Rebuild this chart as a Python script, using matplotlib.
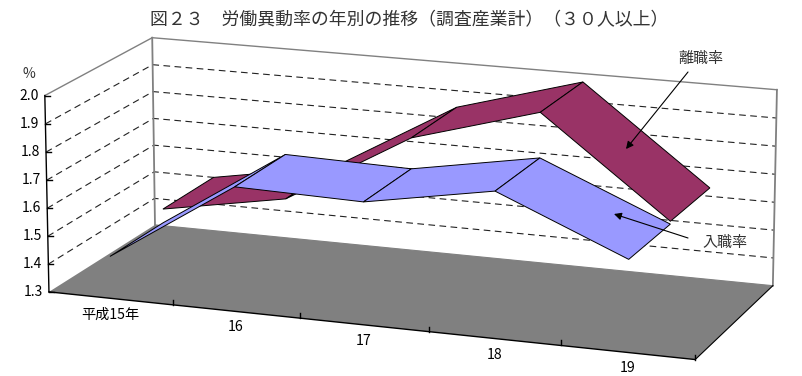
import numpy as np
import matplotlib
matplotlib.use('Agg')
import matplotlib.pyplot as plt
from matplotlib.patches import Polygon

plt.rcParams['font.family'] = ['Noto Sans CJK JP', 'DejaVu Sans']

# ==============================================================================
# Data
# ==============================================================================

TITLE = '図２３　労働異動率の年別の推移（調査産業計）（３０人以上）'
YEARS = ['平成15年', '16', '17', '18', '19']
RATE_TICKS = [1.3, 1.4, 1.5, 1.6, 1.7, 1.8, 1.9, 2.0]
HIRE_RATE = [1.45, 1.74, 1.73, 1.81, 1.62]
LEAVE_RATE = [1.50, 1.58, 1.84, 1.97, 1.63]

RATE_MIN = 1.3
RATE_MAX = 2.0
MAROON = '#993366'
BLUE = '#9999FF'
GREY = '#808080'

# ==============================================================================
# 3D box projection, (category, depth, rate) -> image pixel
# ==============================================================================

box_world = [(0, 0, 0), (0, 1, 0), (5, 1, 0), (5, 0, 0), (0, 0, .7), (0, 1, .7), (5, 1, .7)]
box_pixel = [(49, 292), (155, 225), (773, 285), (695, 360), (45, 95), (152, 38), (777, 90)]

rows, targets = [], []
for (u, v, h), (x, y) in zip(box_world, box_pixel):
    rows.append([u, v, h, 1, 0, 0, 0, 0, -x * u, -x * v, -x * h])
    targets.append(x)
    rows.append([0, 0, 0, 0, u, v, h, 1, -y * u, -y * v, -y * h])
    targets.append(y)
solution = np.linalg.lstsq(np.array(rows, float), np.array(targets, float), rcond=None)[0]
CAMERA = np.append(solution, 1).reshape(3, 4)


def project(category, depth, rate):
    q = CAMERA @ np.array([category, depth, rate - RATE_MIN, 1.0])
    return q[0] / q[2], q[1] / q[2]


def draw_ribbon(ax, rates, depth_front, depth_back, color, zorder):
    # One quad per segment, the fold lines come from the quad edges
    for i in range(len(rates) - 1):
        quad = [
            project(i + .5, depth_front, rates[i]),
            project(i + 1.5, depth_front, rates[i + 1]),
            project(i + 1.5, depth_back, rates[i + 1]),
            project(i + .5, depth_back, rates[i]),
        ]
        ax.add_patch(Polygon(quad, closed=True, facecolor=color, edgecolor='black',
                             linewidth=.7, joinstyle='miter', zorder=zorder))


def draw_line(ax, a, b, **kwargs):
    ax.plot([a[0], b[0]], [a[1], b[1]], **kwargs)


# ==============================================================================
# Figure
# ==============================================================================

fig = plt.figure(figsize=(8.03, 3.76), dpi=100)
ax = fig.add_axes([0, 0, 1, 1])
ax.set_xlim(0, 803)
ax.set_ylim(376, 0)
ax.axis('off')

# Floor
floor = [project(0, 0, RATE_MIN), project(5, 0, RATE_MIN), project(5, 1, RATE_MIN), project(0, 1, RATE_MIN)]
ax.add_patch(Polygon(floor, closed=True, facecolor=GREY, edgecolor='none', zorder=1))

# Dashed grid on the left and back walls
for rate in RATE_TICKS[1:-1]:
    corner = project(0, 1, rate)
    xs = [project(0, 0, rate)[0], corner[0], project(5, 1, rate)[0]]
    ys = [project(0, 0, rate)[1], corner[1], project(5, 1, rate)[1]]
    ax.plot(xs, ys, color='#222222', linewidth=.8, dashes=(6, 4), zorder=2)

# Wall outlines
top_left = project(0, 1, RATE_MAX)
draw_line(ax, project(0, 0, RATE_MAX), top_left, color=GREY, linewidth=1, zorder=2)
draw_line(ax, top_left, project(5, 1, RATE_MAX), color=GREY, linewidth=1, zorder=2)
draw_line(ax, top_left, project(0, 1, RATE_MIN), color=GREY, linewidth=1.3, zorder=2)
draw_line(ax, project(5, 1, RATE_MAX), project(5, 1, RATE_MIN), color=GREY, linewidth=1.3, zorder=2)
draw_line(ax, project(0, 1, RATE_MIN), project(5, 1, RATE_MIN), color=GREY, linewidth=.8, zorder=2)

# Series, the leave rate sits behind the hire rate
draw_ribbon(ax, LEAVE_RATE, .5, 1, MAROON, 3)
draw_ribbon(ax, HIRE_RATE, 0, .5, BLUE, 4)

# Axes lines and ticks
draw_line(ax, project(0, 0, RATE_MIN), project(0, 0, RATE_MAX), color='black', linewidth=1, zorder=5)
draw_line(ax, project(0, 0, RATE_MIN), project(5, 0, RATE_MIN), color='black', linewidth=1, zorder=5)
draw_line(ax, project(5, 0, RATE_MIN), project(5, 1, RATE_MIN), color='black', linewidth=.8, zorder=5)

for rate in RATE_TICKS:
    x, y = project(0, 0, rate)
    draw_line(ax, (x, y), (x + 5, y), color='black', linewidth=1, zorder=5)
    ax.text(x - 6, y, f'{rate:.1f}', ha='right', va='center', fontsize=10, color='black', zorder=6)

for i in range(1, len(YEARS) + 1):
    x, y = project(i, 0, RATE_MIN)
    draw_line(ax, (x, y), (x, y - 5), color='black', linewidth=1, zorder=5)

for i, year in enumerate(YEARS):
    x, y = project(i + .5, 0, RATE_MIN)
    ax.text(x, y + 16, year, ha='center', va='center', fontsize=10.2, color='black', zorder=6)

ax.text(29, 74, '%', ha='center', va='center', fontsize=10, color='#333333')
ax.text(150, 20, TITLE, ha='left', va='center', fontsize=12.9, color='#333333')

# Labels with arrows
ax.text(700.5, 59, '離職率', ha='center', va='center', fontsize=10.8, color='#333333')
ax.text(725, 243, '入職率', ha='center', va='center', fontsize=10.8, color='#333333')
ax.annotate('', xy=(626, 149), xytext=(688, 72), zorder=7,
            arrowprops=dict(arrowstyle='-|>', color='black', linewidth=.8, mutation_scale=11, shrinkA=0, shrinkB=0))
ax.annotate('', xy=(614, 214), xytext=(688, 238), zorder=7,
            arrowprops=dict(arrowstyle='-|>', color='black', linewidth=.8, mutation_scale=11, shrinkA=0, shrinkB=0))

fig.savefig('out.png', dpi=100)
